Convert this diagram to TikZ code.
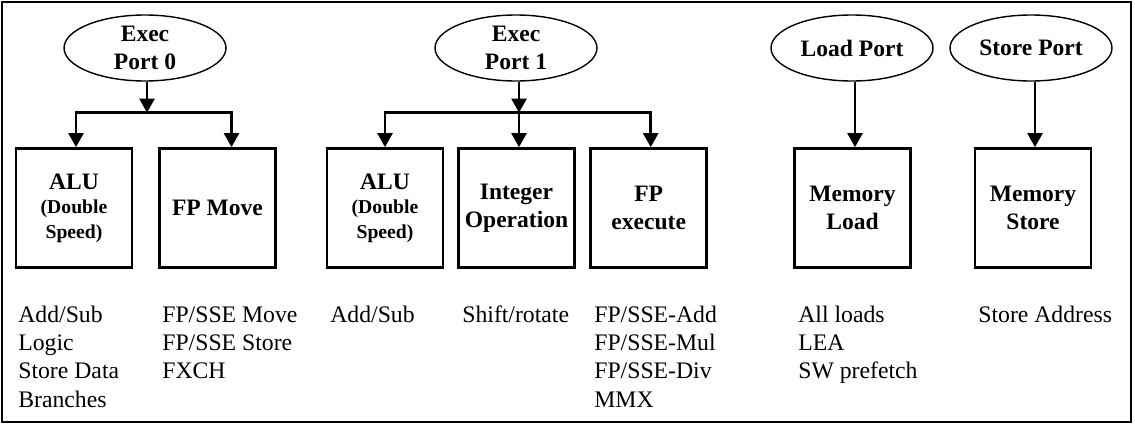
\documentclass[tikz,border=0pt]{standalone}
\usepackage{fontspec}
\setmainfont{Liberation Serif}
\usetikzlibrary{arrows.meta}
\usetikzlibrary{shapes,positioning,calc}

\begin{document}
\begin{tikzpicture}[x=0.02cm, y=-0.02cm, >={Triangle[width=8.5pt,length=8pt]},
	port/.style={ellipse, draw, line width=0.8pt, minimum width=3.24cm, minimum height=1.32cm, inner sep=0pt, align=center, font=\fontsize{13.4}{16}\selectfont\bfseries},
	unit/.style={rectangle, draw, line width=1.5pt, minimum width=2.32cm, minimum height=2.38cm, inner sep=0pt, align=center, font=\fontsize{13.4}{16}\selectfont\bfseries},
	ops/.style={anchor=base west, align=left, inner sep=0pt, font=\fontsize{13.5}{16.1}\selectfont},
	link/.style={line width=1.5pt}]
			\useasboundingbox (0,0) rectangle (1135,426);
			\draw[line width=0.7pt] (2,2) rectangle (1131,422);
			\node[port] (p0) at (145,48) {Exec\\Port 0};
			\node[port] (p1) at (516,48) {Exec\\Port 1};
			\node[port] (lp) at (852,48) {Load Port};
			\node[port] (sp) at (1031,48) {Store Port};
			\node[unit] (alu0) at (74,208) {ALU\\[-2pt]{\fontsize{11.2}{14.6}\selectfont (Double}\\[-2pt]{\fontsize{11.2}{14.6}\selectfont Speed)}};
			\node[unit] (fpm) at (217.5,208) {FP Move};
			\node[unit] (alu1) at (385,208) {ALU\\[-2pt]{\fontsize{11.2}{14.6}\selectfont (Double}\\[-2pt]{\fontsize{11.2}{14.6}\selectfont Speed)}};
			\node[unit] (intop) at (516.5,208) {Integer\\Operation};
			\node[unit] (fpex) at (648.7,208) {FP\\execute};
			\node[unit] (mload) at (852.5,208) {Memory\\Load};
			\node[unit] (mstore) at (1033,208) {Memory\\Store};
			\coordinate (j0) at ($(p0.south)+(2,31)$);
			\coordinate (j1) at ($(p1.south)+(3,31)$);
			\draw[link, ->] (j0 |- p0.south) -- (j0);
			\draw[link, ->] (j0) -| ([xshift=0.04cm]alu0.north);
			\draw[link, ->] (j0) -| ([xshift=0.28cm]fpm.north);
			\draw[link, ->] (j1 |- p1.south) -- (j1);
			\draw[link, ->] (j1) -| (alu1.north);
			\draw[link, ->] (j1) -- (j1 |- intop.north);
			\draw[link, ->] (j1) -| ([xshift=0.04cm]fpex.north);
			\draw[link, ->] ([xshift=0.06cm]lp.south) -- ([xshift=0.06cm]lp.south |- mload.north);
			\draw[link, ->] ([xshift=0.08cm]sp.south) -- ([xshift=0.08cm]sp.south |- mstore.north);
			\node[ops] (l0) at (18,407.2) {Add/Sub\\Logic\\Store Data\\Branches};
			\node[ops] (l1) at (162,378.8) {FP/SSE Move\\FP/SSE Store\\FXCH};
			\node[ops] (l2) at (330,322) {Add/Sub};
			\node[ops] (l3) at (462,322) {Shift/rotate};
			\node[ops] (l4) at (594,407.2) {FP/SSE-Add\\FP/SSE-Mul\\FP/SSE-Div\\MMX};
			\node[ops] (l5) at (798,378.8) {All loads\\LEA\\SW prefetch};
			\node[ops] (l6) at (978,322) {Store Address};
		\end{tikzpicture}
\end{document}
